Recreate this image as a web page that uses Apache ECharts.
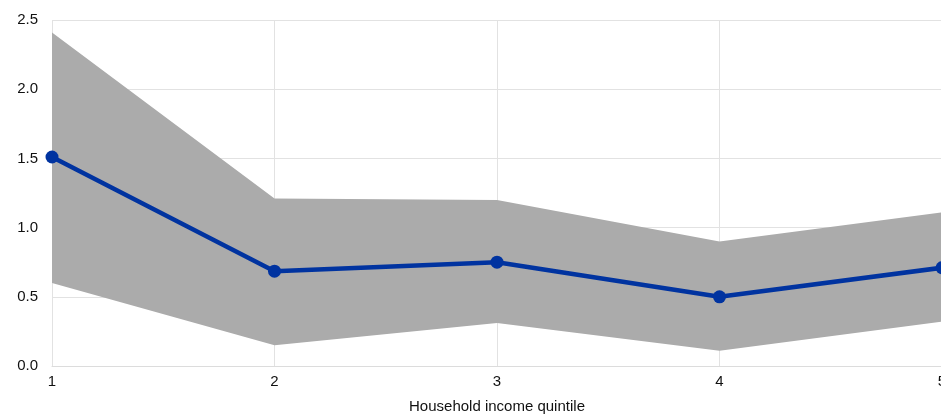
<!DOCTYPE html>
<html>
<head>
<meta charset="utf-8">
<script src="https://cdn.jsdelivr.net/npm/echarts@6/dist/echarts.min.js"></script>
<style>
html,body{margin:0;padding:0;background:#fff;}
#chart{width:941px;height:414px;}
</style>
</head>
<body>
<div id="chart"></div>
<script>
const categories = ['1', '2', '3', '4', '5'];
const estimate = [1.51, 0.685, 0.75, 0.50, 0.71];
const upperBound = [2.41, 1.21, 1.20, 0.90, 1.11];
const lowerBound = [0.60, 0.15, 0.31, 0.11, 0.32];
const xAxisName = 'Household income quintile';

const bandWidth = upperBound.map((u, i) => +(u - lowerBound[i]).toFixed(3));

const chart = echarts.init(document.getElementById('chart'), null, {renderer: 'canvas'});
chart.setOption({
  animation: false,
  backgroundColor: '#ffffff',
  grid: {left: 52, right: -1, top: 20, bottom: 48, containLabel: false, outerBoundsMode: 'none'},
  xAxis: {
    type: 'category',
    data: categories,
    boundaryGap: false,
    name: xAxisName,
    nameLocation: 'middle',
    nameGap: 33,
    nameTextStyle: {fontFamily: 'Liberation Sans', fontSize: 15, color: '#111'},
    axisLine: {show: true, lineStyle: {color: '#dcdcdc', width: 1}},
    axisTick: {show: false},
    axisLabel: {fontFamily: 'Liberation Sans', fontSize: 15, color: '#111', margin: 8},
    splitLine: {show: true, lineStyle: {color: '#e2e2e2', width: 1}}
  },
  yAxis: {
    type: 'value',
    min: 0,
    max: 2.5,
    interval: 0.5,
    axisLine: {show: false},
    axisTick: {show: false},
    axisLabel: {fontFamily: 'Liberation Sans', fontSize: 15, color: '#111', margin: 14,
      formatter: v => v.toFixed(1)},
    splitLine: {show: true, lineStyle: {color: '#e2e2e2', width: 1}}
  },
  series: [
    {
      name: 'lower',
      type: 'line',
      data: lowerBound,
      stack: 'band',
      symbol: 'none',
      lineStyle: {opacity: 0},
      areaStyle: {opacity: 0},
      silent: true,
      z: 1
    },
    {
      name: 'band',
      type: 'line',
      data: bandWidth,
      stack: 'band',
      symbol: 'none',
      lineStyle: {opacity: 0},
      areaStyle: {color: '#ababab', opacity: 1},
      silent: true,
      z: 1
    },
    {
      name: 'estimate',
      type: 'line',
      data: estimate,
      symbol: 'circle',
      symbolSize: 13,
      lineStyle: {color: '#0033a0', width: 4.5},
      itemStyle: {color: '#0033a0'},
      z: 3
    }
  ]
});
</script>
</body>
</html>
